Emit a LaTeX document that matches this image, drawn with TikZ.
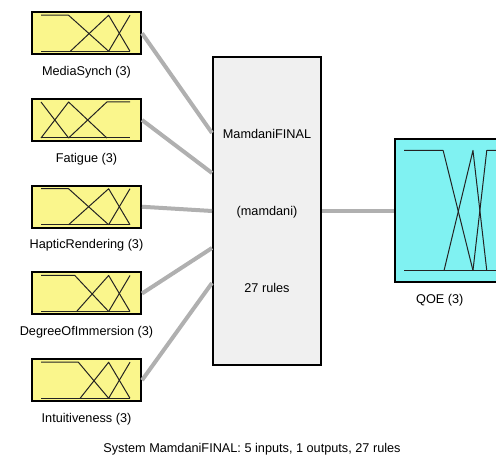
\documentclass[tikz,border=0pt]{standalone}
\usepackage{fontspec}
\setmainfont{Liberation Sans}
\usepackage{xcolor}
\usepackage{tikz}
\usetikzlibrary{positioning, calc}

\definecolor{inyellow}{RGB}{250,246,140}
\definecolor{outcyan}{RGB}{128,242,242}
\definecolor{fisgray}{RGB}{240,240,240}
\definecolor{linkgray}{RGB}{176,176,176}
\definecolor{mfline}{RGB}{35,35,35}

\begin{document}
\begin{tikzpicture}[
    x=1pt, y=1pt,
    node distance=42.75pt and 72pt,
    inbox/.style={rectangle, draw=black, line width=2pt, fill=inyellow, minimum width=109pt, minimum height=42pt, inner sep=0pt},
    fisbox/.style={rectangle, draw=black, line width=2pt, fill=fisgray, minimum width=108pt, minimum height=308pt, align=center, font=\fontsize{12.7}{15}\selectfont},
    outbox/.style={rectangle, draw=black, line width=2pt, fill=outcyan, minimum width=110pt, minimum height=143pt, inner sep=0pt},
    lbl/.style={inner sep=0pt, text height=9pt, text depth=3pt, font=\fontsize{12.7}{15}\selectfont},
    link/.style={line width=4pt, draw=linkgray},
    mf/.style={line width=1pt, draw=mfline, line join=round},
    mf in/.style={shift={($(#1.south west)+(10pt,4pt)$)}, x=89pt, y=36pt},
    mf out/.style={shift={($(#1.south west)+(10pt,13pt)$)}, x=89pt, y=120pt}
]
    \useasboundingbox (0,0) rectangle (496,470);
    \clip (0,0) rectangle (496,470);

    % Inputs (top to bottom)
    \node (in1) [inbox] at (86.5,436.75) {};
    \node (in2) [inbox, below=of in1] {};
    \node (in3) [inbox, below=of in2] {};
    \node (in4) [inbox, below=of in3] {};
    \node (in5) [inbox, below=of in4] {};

    \node (lbl1) [lbl, below=11pt of in1] {MediaSynch (3)};
    \node (lbl2) [lbl, below=11pt of in2] {Fatigue (3)};
    \node (lbl3) [lbl, below=11pt of in3] {HapticRendering (3)};
    \node (lbl4) [lbl, below=11pt of in4] {DegreeOfImmersion (3)};
    \node (lbl5) [lbl, below=11pt of in5] {Intuitiveness (3)};

    % Rule block and output
    \node (fis) [fisbox] at (267,259) {MamdaniFINAL\\[62pt](mamdani)\\[62pt]27 rules};
    \node (out) [outbox, right=of fis] {};
    \node (lblout) [lbl, below right=11pt and 22pt of out.south west, anchor=north west] {QOE (3)};

    \node (summary) [lbl] at (252,20) {System MamdaniFINAL: 5 inputs, 1 outputs, 27 rules};

    % Connecting lines
    \coordinate (fisin1) at ([yshift=78pt]fis.west);
    \coordinate (fisin2) at ([yshift=38pt]fis.west);
    \coordinate (fisin3) at ([yshift=0pt]fis.west);
    \coordinate (fisin4) at ([yshift=-37pt]fis.west);
    \coordinate (fisin5) at ([yshift=-72pt]fis.west);
    \foreach \i in {1,...,5}
        \draw [link] (in\i.east) -- (fisin\i);
    \draw [link] (fis.east) -- (out.west);

    % Membership functions
    \begin{scope}[mf in=in1]
        \draw [mf] (0,0) -- (1,0);
        \draw [mf] (0,1) -- (0.31,1) -- (0.76,0);
        \draw [mf] (0.33,0) -- (0.76,1) -- (1,0);
        \draw [mf] (0.76,0) -- (1,1);
    \end{scope}
    \begin{scope}[mf in=in2]
        \draw [mf] (0,0) -- (1,0);
        \draw [mf] (0,1) -- (0.31,0);
        \draw [mf] (0,0) -- (0.31,1) -- (0.74,0);
        \draw [mf] (0.31,0) -- (0.74,1) -- (1,1);
    \end{scope}
    \begin{scope}[mf in=in3]
        \draw [mf] (0,0) -- (1,0);
        \draw [mf] (0,1) -- (0.31,1) -- (0.76,0);
        \draw [mf] (0.31,0) -- (0.76,1) -- (1,0);
        \draw [mf] (0.76,0) -- (1,1);
    \end{scope}
    \begin{scope}[mf in=in4]
        \draw [mf] (0,0) -- (1,0);
        \draw [mf] (0,1) -- (0.38,1) -- (0.76,0);
        \draw [mf] (0.40,0) -- (0.76,1) -- (1,0);
        \draw [mf] (0.76,0) -- (1,1);
    \end{scope}
    \begin{scope}[mf in=in5]
        \draw [mf] (0,0) -- (1,0);
        \draw [mf] (0,1) -- (0.42,1) -- (0.76,0);
        \draw [mf] (0.44,0) -- (0.76,1) -- (1,0);
        \draw [mf] (0.76,0) -- (1,1);
    \end{scope}
    \begin{scope}[mf out=out]
        \draw [mf] (0,0) -- (1.1,0);
        \draw [mf] (0,1) -- (0.44,1) -- (0.775,0);
        \draw [mf] (0.45,0) -- (0.775,1) -- (0.93,0);
        \draw [mf] (0.775,0) -- (0.93,1) -- (1.1,1);
    \end{scope}

\end{tikzpicture}
\end{document}
